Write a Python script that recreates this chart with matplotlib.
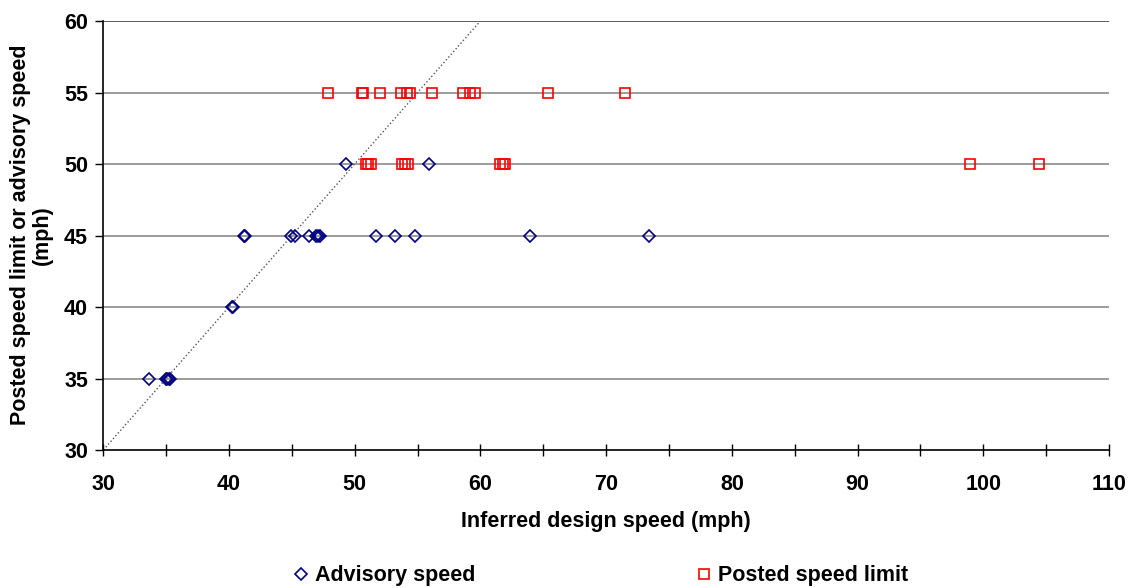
import matplotlib
matplotlib.use("Agg")
import matplotlib.pyplot as plt
from matplotlib.ticker import MultipleLocator

plt.rcParams['font.family'] = ['Liberation Sans', 'DejaVu Sans']
plt.rcParams['font.weight'] = 'bold'

FS = 15.5

# advisory speed points (inferred design speed, advisory speed)
adv_x = [33.64, 35.0, 35.1, 35.2, 35.3,
         40.2, 40.35,
         41.2, 41.3, 44.9, 45.25, 46.4, 46.9, 47.05, 47.2,
         51.67, 53.2, 54.8, 63.95, 73.44,
         49.3, 55.93]
adv_y = [35, 35, 35, 35, 35,
         40, 40,
         45, 45, 45, 45, 45, 45, 45, 45,
         45, 45, 45, 45, 45,
         50, 50]

# posted speed limit points
post_x = [50.9, 51.05, 51.3, 53.76, 54.0, 54.24, 61.56, 61.8, 61.96, 98.97, 104.44,
          47.85, 50.55, 50.65, 52.0, 53.66, 54.14, 54.4, 56.17, 58.64, 59.17, 59.57,
          65.4, 71.5]
post_y = [50, 50, 50, 50, 50, 50, 50, 50, 50, 50, 50,
          55, 55, 55, 55, 55, 55, 55, 55, 55, 55, 55,
          55, 55]

# dotted 1:1 line
ref_x = [30, 60]
ref_y = [30, 60]

fig = plt.figure(figsize=(11.28, 5.88), dpi=100)
ax = fig.add_axes([103.3/1128, 1-450/588, (1109-103.3)/1128, (450-21)/588])

for y in [35, 40, 45, 50, 55, 60]:
    ax.axhline(y, color='#808080' if y < 60 else '#303030', lw=1.1, zorder=0)

ax.plot(ref_x, ref_y, ':', color='#555555', lw=1.0, zorder=1)

ax.plot(adv_x, adv_y, 'D', ms=5.8, mfc='none', mec='#000080', mew=1.2,
        ls='none', label='Advisory speed', zorder=3)
ax.plot(post_x, post_y, 's', ms=7, mfc='none', mec='red', mew=1.2,
        ls='none', label='Posted speed limit', zorder=3)

ax.set_xlim(30, 110)
ax.set_ylim(30, 60)
ax.xaxis.set_major_locator(MultipleLocator(10))
ax.xaxis.set_minor_locator(MultipleLocator(5))
ax.yaxis.set_major_locator(MultipleLocator(5))

for s in ['top', 'right']:
    ax.spines[s].set_visible(False)
ax.spines['left'].set_linewidth(1.2)
ax.spines['bottom'].set_linewidth(1.2)

ax.tick_params(axis='x', which='both', direction='inout', length=9, width=1,
               labelsize=FS, pad=12.5)
ax.tick_params(axis='y', direction='out', length=6, width=1, labelsize=FS, pad=5)
for lab in ax.get_xticklabels() + ax.get_yticklabels():
    lab.set_fontweight('bold')

fig.text(605.5/1128, 1-522/588, 'Inferred design speed (mph)', ha='center',
         va='center', fontsize=FS, fontweight='bold')
fig.text(31/1128, 1-235/588, 'Posted speed limit or advisory speed\n(mph)',
         ha='center', va='center', rotation=90, fontsize=FS,
         fontweight='bold', linespacing=1.05)

fig.legend(loc='center', bbox_to_anchor=(600/1128, 1-576/588), ncol=2,
           frameon=False, handlelength=0.8, handletextpad=0.25,
           columnspacing=10.2, prop={'weight': 'bold', 'size': FS})

fig.savefig('out.png', dpi=100)
